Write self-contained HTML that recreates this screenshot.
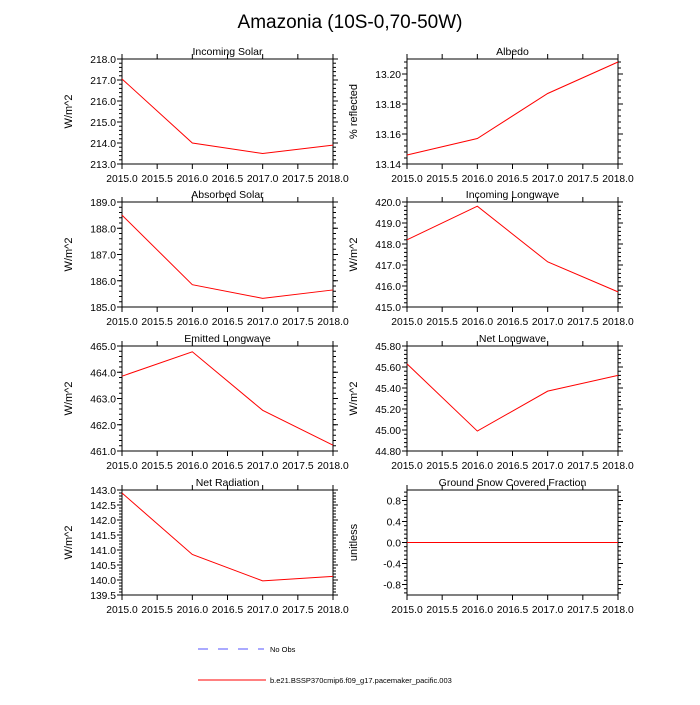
<!DOCTYPE html>
<html><head><meta charset="utf-8"><style>
body{margin:0;background:#fff;font-family:"Liberation Sans",sans-serif}
svg text{font-family:"Liberation Sans",sans-serif;fill:#000}
</style></head><body>
<svg id="chart" width="700" height="700" viewBox="0 0 700 700" xmlns="http://www.w3.org/2000/svg">
<text x="350" y="28" font-size="19" text-anchor="middle">Amazonia (10S-0,70-50W)</text>
<g id="panels"></g>
<g>
<line x1="198" y1="649" x2="264" y2="649" stroke="#5555ff" stroke-width="1" stroke-dasharray="10,10"/>
<text x="270" y="652" font-size="7.5">No Obs</text>
<line x1="198" y1="680" x2="266" y2="680" stroke="red" stroke-width="1"/>
<text x="270" y="683" font-size="7.5">b.e21.BSSP370cmip6.f09_g17.pacemaker_pacific.003</text>
</g>
</svg>
<script>
const years=[2015,2016,2017,2018];
const xTicks=[2015,2015.5,2016,2016.5,2017,2017.5,2018];
const titles=["Incoming Solar","Albedo","Absorbed Solar","Incoming Longwave","Emitted Longwave","Net Longwave","Net Radiation","Ground Snow Covered Fraction"];
const yTitles=["W/m^2","% reflected","W/m^2","W/m^2","W/m^2","W/m^2","W/m^2","unitless"];
const incomingSolar=[217.05,214.0,213.5,213.9];
const albedo=[13.146,13.157,13.187,13.208];
const absorbedSolar=[188.5,185.85,185.33,185.65];
const incomingLW=[418.2,419.8,417.15,415.72];
const emittedLW=[463.85,464.78,462.55,461.22];
const netLW=[45.63,44.99,45.37,45.52];
const netRad=[142.9,140.85,139.97,140.12];
const snow=[0,0,0,0];
const yRanges=[[213,218],[13.14,13.21],[185,189],[415,420],[461,465],[44.8,45.8],[139.5,143],[-1,1]];
const yTickVals=[[213,214,215,216,217,218],[13.14,13.16,13.18,13.20],[185,186,187,188,189],[415,416,417,418,419,420],[461,462,463,464,465],[44.8,45,45.2,45.4,45.6,45.8],[139.5,140,140.5,141,141.5,142,142.5,143],[-0.8,-0.4,0,0.4,0.8]];
const yDec=[1,2,1,1,1,2,1,1];
const series=[incomingSolar,albedo,absorbedSolar,incomingLW,emittedLW,netLW,netRad,snow];
const NS="http://www.w3.org/2000/svg";
const g=document.getElementById('panels');
const colX=[122,407],rowY=[59,202,346,490],W=211,H=105;
function mk(t,a,p){const e=document.createElementNS(NS,t);for(const k in a)e.setAttribute(k,a[k]);(p||g).appendChild(e);return e;}
for(let i=0;i<8;i++){
 const x0=colX[i%2],y0=rowY[Math.floor(i/2)];
 const [lo,hi]=yRanges[i];
 const sx=v=>x0+(v-2015)/3*W, sy=v=>y0+H-(v-lo)/(hi-lo)*H;
 const p=mk('g',{});
 
 
 const t=mk('text',{x:x0+W/2,y:y0-4,'font-size':10.5,'text-anchor':'middle'},p);t.textContent=titles[i];
 
 
 const yt=mk('text',{x:0,y:0,'font-size':11,'text-anchor':'middle',transform:`translate(${x0-50},${y0+H/2}) rotate(-90)`},p);yt.textContent=yTitles[i];
 
 
 mk('rect',{x:x0,y:y0,width:W,height:H,fill:'none',stroke:'#000','stroke-width':1},p);
 xTicks.forEach(v=>{const X=sx(v);
  mk('line',{x1:X,y1:y0,x2:X,y2:y0-5,stroke:'#000'},p);
  mk('line',{x1:X,y1:y0+H,x2:X,y2:y0+H+5,stroke:'#000'},p);
  const l=mk('text',{x:X,y:y0+H+18,'font-size':10.3,'text-anchor':'middle'},p);l.textContent=v.toFixed(1);
  
  
 });
 const tv=yTickVals[i],step=tv[1]-tv[0];
 for(let v=tv[0]-step;v<=hi+1e-9;v+=step/5){if(v<lo-1e-9)continue;const Y=sy(v);
  mk('line',{x1:x0,y1:Y,x2:x0-3,y2:Y,stroke:'#000'},p);mk('line',{x1:x0+W,y1:Y,x2:x0+W+3,y2:Y,stroke:'#000'},p);}
 tv.forEach(v=>{const Y=sy(v);
  mk('line',{x1:x0,y1:Y,x2:x0-5,y2:Y,stroke:'#000'},p);mk('line',{x1:x0+W,y1:Y,x2:x0+W+5,y2:Y,stroke:'#000'},p);
  const l=mk('text',{x:x0-6,y:Y+4,'font-size':10.3,'text-anchor':'end'},p);l.textContent=v.toFixed(yDec[i]);
  
  
 });
 const ln=mk('polyline',{points:series[i].map((v,j)=>sx(years[j])+','+sy(v)).join(' '),fill:'none',stroke:'red','stroke-width':1},p);
 
 
}
</script>
</body></html>
